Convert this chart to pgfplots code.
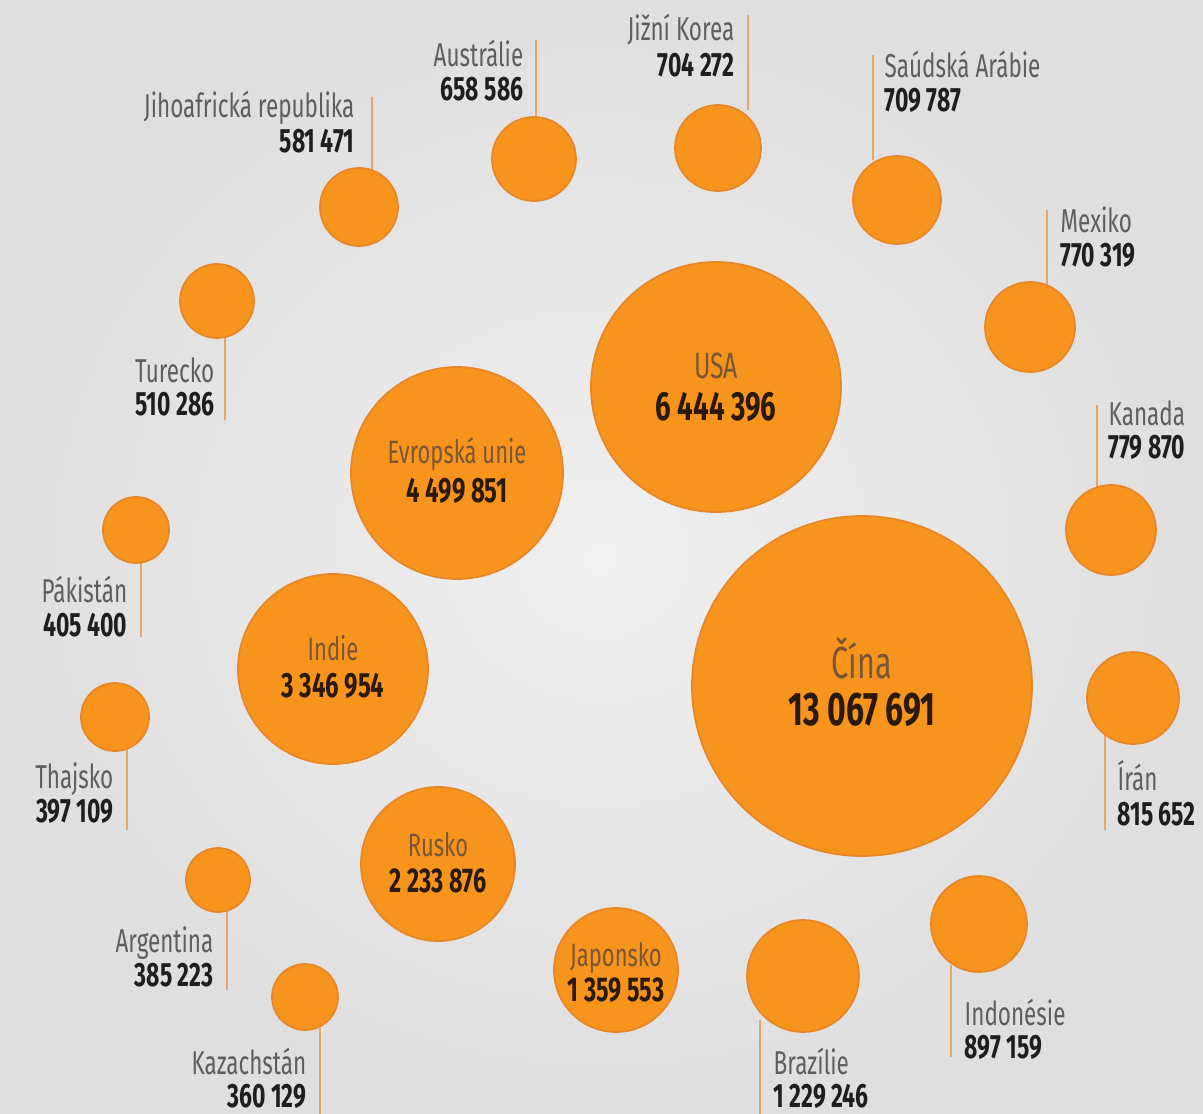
\documentclass[border=0pt]{standalone}
\usepackage{pgfplots}
\pgfplotsset{compat=1.18}
\usepackage{pgfplotstable}
\usepackage{fontspec}
\setmainfont{Fira Sans}[FakeStretch=0.68]
\definecolor{bubble}{HTML}{F7941D}
\definecolor{bubbleedge}{HTML}{E8872A}
\definecolor{leader}{HTML}{E9A466}
\definecolor{namegray}{HTML}{5E5E5E}
\definecolor{valdark}{HTML}{1E1E1E}
\definecolor{inname}{HTML}{7A5634}
\definecolor{inval}{HTML}{2A1A0C}
\definecolor{bgin}{HTML}{F0F0F0}
\definecolor{bgout}{HTML}{DFDFDF}

\pgfplotstableread{
x y r
862 686 170
716 387 125
457 473 106
333 669 95
438 864 77
616 970 62
803 976 56
979 924 48
1133 698 46
1111 530 45
1030 327 45
897 200 44
718 148 43
534 159 42
359 207 39
217 301 37
136 530 33
115 717 34
218 880 32
305 997 33
}\bubbles

\newcommand\lab[6]{%
  \node[anchor=#4, font=\fontsize{9.4}{10}\selectfont, text=namegray, inner sep=0pt] at (axis cs:#1,#2) {#5};
  \node[anchor=#4, font=\fontsize{9.6}{10}\selectfont\bfseries, text=valdark, inner sep=0pt] at (axis cs:#1,#3) {#6};
}
\newcommand\inlab[7]{%
  \node[anchor=base, font=\fontsize{#6}{10}\selectfont, text=inname, inner sep=0pt] at (axis cs:#1,#2) {#4};
  \node[anchor=base, font=\fontsize{#7}{10}\selectfont\bfseries, text=inval, inner sep=0pt] at (axis cs:#1,#3) {#5};
}

\begin{document}
\begin{tikzpicture}
\begin{axis}[
  scale only axis, width=12.03cm, height=11.14cm,
  xmin=0, xmax=1203, ymin=0, ymax=1114, y dir=reverse,
  hide axis, clip=false, clip marker paths=true,
]
\coordinate (BL) at (rel axis cs:0,0);
\coordinate (TR) at (rel axis cs:1,1);
\shade[inner color=bgin, outer color=bgout] (rel axis cs:0,0) rectangle (rel axis cs:1,1);

% leader lines
\addplot[leader, line width=0.6pt, forget plot] coordinates {(372,97) (372,170)};
\addplot[leader, line width=0.6pt, forget plot] coordinates {(536,40) (536,118)};
\addplot[leader, line width=0.6pt, forget plot] coordinates {(748,15) (748,110)};
\addplot[leader, line width=0.6pt, forget plot] coordinates {(873,55) (873,160)};
\addplot[leader, line width=0.6pt, forget plot] coordinates {(1047,210) (1047,290)};
\addplot[leader, line width=0.6pt, forget plot] coordinates {(1097,405) (1097,490)};
\addplot[leader, line width=0.6pt, forget plot] coordinates {(1105,735) (1105,830)};
\addplot[leader, line width=0.6pt, forget plot] coordinates {(951,965) (951,1057)};
\addplot[leader, line width=0.6pt, forget plot] coordinates {(760,1020) (760,1114)};
\addplot[leader, line width=0.6pt, forget plot] coordinates {(320,1028) (320,1114)};
\addplot[leader, line width=0.6pt, forget plot] coordinates {(227,908) (227,990)};
\addplot[leader, line width=0.6pt, forget plot] coordinates {(127,748) (127,830)};
\addplot[leader, line width=0.6pt, forget plot] coordinates {(141,560) (141,637)};
\addplot[leader, line width=0.6pt, forget plot] coordinates {(225,336) (225,420)};

% bubbles
\addplot[scatter, only marks, mark=*,
  scatter/use mapped color={draw=bubbleedge, fill=bubble},
  mark options={line width=0.5pt},
  visualization depends on={\thisrow{r}*0.28453 \as \rad},
  scatter/@pre marker code/.append style={/tikz/mark size=\rad pt},
] table[x=x, y=y] {\bubbles};

% inside labels
\inlab{862}{678}{725}{Čína}{13 067 691}{12.8}{13.4}
\inlab{716}{378}{420}{USA}{6 444 396}{10.4}{11.6}
\inlab{457}{463}{502}{Evropská unie}{4 499 851}{9.2}{10}
\inlab{333}{660}{697}{Indie}{3 346 954}{9.2}{10}
\inlab{438}{856}{892}{Rusko}{2 233 876}{9.2}{9.8}
\inlab{616}{966}{1001}{Japonsko}{1 359 553}{9.2}{9.8}

% outside labels
\lab{355}{118}{152}{base east}{Jihoafrická republika}{581 471}
\lab{524}{67}{101}{base east}{Austrálie}{658 586}
\lab{735}{40}{76}{base east}{Jižní Korea}{704 272}
\lab{884}{78}{112}{base west}{Saúdská Arábie}{709 787}
\lab{1060}{232}{266}{base west}{Mexiko}{770 319}
\lab{1108}{425}{458}{base west}{Kanada}{779 870}
\lab{1117}{790}{825}{base west}{Írán}{815 652}
\lab{964}{1025}{1058}{base west}{Indonésie}{897 159}
\lab{773}{1074}{1107}{base west}{Brazílie}{1 229 246}
\lab{307}{1074}{1107}{base east}{Kazachstán}{360 129}
\lab{214}{952}{986}{base east}{Argentina}{385 223}
\lab{114}{788}{822}{base east}{Thajsko}{397 109}
\lab{128}{602}{636}{base east}{Pákistán}{405 400}
\lab{215}{382}{415}{base east}{Turecko}{510 286}
\end{axis}
\pgfresetboundingbox
\path[use as bounding box] (BL) rectangle (TR);
\end{tikzpicture}
\end{document}
